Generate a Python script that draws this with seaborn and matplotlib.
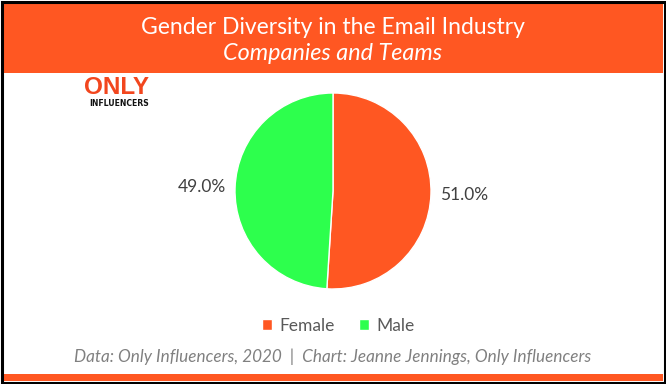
import matplotlib
matplotlib.use("Agg")
import matplotlib.pyplot as plt
import seaborn as sns
from matplotlib.patches import Rectangle

sns.set_theme(style="white")
plt.rcParams['font.family'] = ['Lato', 'DejaVu Sans']

categories = ["Female", "Male"]
values = [51.0, 49.0]
colors = ["#FF5722", "#2DFF4D"]
title = "Gender Diversity in the Email Industry"
subtitle = "Companies and Teams"
footer = "Data: Only Influencers, 2020  |  Chart: Jeanne Jennings, Only Influencers"

W, H = 666, 384
fig = plt.figure(figsize=(W/100, H/100), dpi=100)
fig.patch.set_facecolor("white")

def fx(px): return px / W
def fy(py): return 1 - py / H

# header band
fig.patches.append(Rectangle((fx(3), fy(72.5)), fx(660), 70/H, transform=fig.transFigure,
                             facecolor="#FF5722", edgecolor="none", zorder=0))
# bottom band
fig.patches.append(Rectangle((fx(3), fy(381)), fx(660), 7/H, transform=fig.transFigure,
                             facecolor="#FF5722", edgecolor="none", zorder=0))
# outer border
fig.patches.append(Rectangle((fx(1.5), fy(382.5)), fx(663), 381/H, transform=fig.transFigure,
                             facecolor="none", edgecolor="black", linewidth=2.2, zorder=5))

fig.text(0.5, fy(27), title, ha="center", va="center", color="white", fontsize=16.5)
fig.text(0.5, fy(53), subtitle, ha="center", va="center", color="white", fontsize=16.8, style="italic")

# logo
fig.text(fx(84), fy(87), "ONLY", ha="left", va="center", color="#F2461E", fontsize=17.5,
         fontweight="bold", family=["Liberation Sans", "DejaVu Sans"])
fig.text(fx(89), fy(104), "INFLUENCERS", ha="left", va="center", color="#111111", fontsize=5.6,
         fontweight="bold", family=["DejaVu Sans"])

# pie
R = 98
cx, cy = 333, 191
ax = fig.add_axes([fx(cx - R), fy(cy + R), 2*R/W, 2*R/H])
wedges, texts, autotexts = ax.pie(values, colors=colors, startangle=90, counterclock=False,
                                  autopct="%1.1f%%", pctdistance=1.34,
                                  wedgeprops=dict(edgecolor="white", linewidth=1),
                                  textprops=dict(fontsize=12.5, color="#404040"))
ax.set_xlim(-1, 1)
ax.set_ylim(-1, 1)
ax.set_aspect("equal")
ax.axis("off")

leg = fig.legend(wedges, categories, loc="center", bbox_to_anchor=(fx(338), fy(326)), ncol=2,
                 frameon=False, fontsize=12.5, handlelength=0.6, handleheight=0.6,
                 handletextpad=0.4, columnspacing=1.4, labelcolor="#595959")

fig.text(0.5, fy(357), footer, ha="center", va="center", color="#808080", fontsize=12.3, style="italic")

fig.savefig("out.png", dpi=100)
